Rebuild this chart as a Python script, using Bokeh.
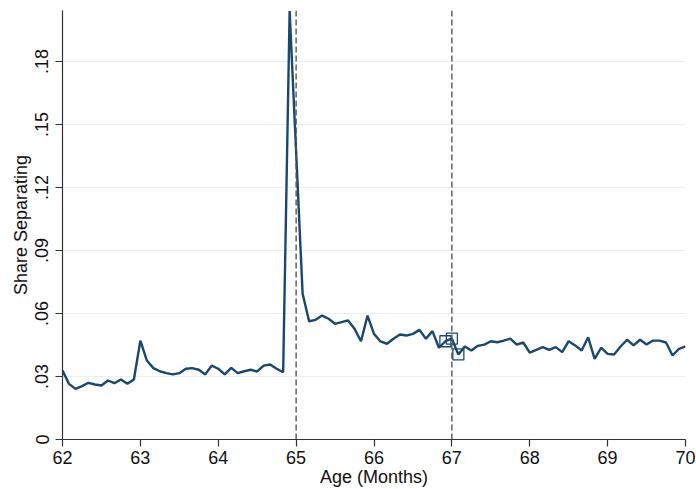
from bokeh.plotting import figure
from bokeh.models import FixedTicker, Span, ColumnDataSource
from bokeh.embed import file_html
from bokeh.resources import INLINE

# Age in months (62*12 .. 70*12), plotted in years
age_months = list(range(744, 841))
share = [
    .0329, .0265, .0241, .0254, .0270, .0262, .0257, .0281, .0268, .0286, .0265, .0286,
    .0471, .0376, .0340, .0325, .0316, .0310, .0316, .0337, .0340, .0332, .0310, .0352,
    .0337, .0310, .0341, .0316, .0325, .0332, .0324, .0352, .0357, .0337, .0320, .2040,
    .1370, .0694, .0563, .0570, .0590, .0575, .0551, .0559, .0567, .0527, .0468, .0590,
    .0503, .0467, .0456, .0480, .0500, .0495, .0503, .0522, .0480, .0516, .0437, .0468,
    .0480, .0405, .0443, .0424, .0446, .0452, .0468, .0463, .0471, .0480, .0452, .0462,
    .0414, .0427, .0440, .0427, .0440, .0416, .0468, .0448, .0424, .0487, .0384, .0437,
    .0408, .0405, .0443, .0475, .0448, .0475, .0452, .0471, .0471, .0462, .0400, .0432,
    .0443,
]
marked_months = [803, 804, 805]
vlines = [65, 67]
x_ticks = [62, 63, 64, 65, 66, 67, 68, 69, 70]
y_ticks = [0, 0.03, 0.06, 0.09, 0.12, 0.15, 0.18]
y_tick_labels = ["0", ".03", ".06", ".09", ".12", ".15", ".18"]

age = [m / 12 for m in age_months]
src = ColumnDataSource(dict(x=age, y=share))
mk = ColumnDataSource(dict(x=[m / 12 for m in marked_months],
                           y=[share[age_months.index(m)] for m in marked_months]))

NAVY = "#1a476f"
FONT = "Liberation Sans"

p = figure(width=696, height=489, output_backend="svg", toolbar_location=None,
           x_range=(62, 70), y_range=(0, 0.2043),
           min_border_left=62, min_border_right=11, min_border_top=10, min_border_bottom=50)
p.outline_line_color = None
p.background_fill_color = "white"
p.border_fill_color = "white"

p.line("x", "y", source=src, line_color=NAVY, line_width=2.4)
p.scatter("x", "y", source=mk, marker="square", size=11, fill_color=None,
          line_color=NAVY, line_width=1.3)

for v in vlines:
    p.add_layout(Span(location=v, dimension="height", line_color="#555555",
                      line_dash="6 3", line_width=1.4))

p.xaxis.ticker = FixedTicker(ticks=x_ticks)
p.yaxis.ticker = FixedTicker(ticks=y_ticks)
p.yaxis.major_label_overrides = {t: l for t, l in zip(y_ticks, y_tick_labels)}
p.yaxis.major_label_orientation = "vertical"

for ax in (p.xaxis[0], p.yaxis[0]):
    ax.axis_line_color = "#333333"
    ax.axis_line_width = 1.2
    ax.major_tick_line_color = "#333333"
    ax.major_tick_line_width = 1.2
    ax.major_tick_out = 7
    ax.major_tick_in = 0
    ax.minor_tick_line_color = None
    ax.major_label_text_font = FONT
    ax.major_label_text_font_size = "18px"
    ax.major_label_text_color = "#111111"
    ax.axis_label_text_font = FONT
    ax.axis_label_text_font_size = "18px"
    ax.axis_label_text_font_style = "normal"
    ax.axis_label_text_color = "#111111"

p.xaxis.axis_label = "Age (Months)"
p.yaxis.axis_label = "Share Separating"
p.xaxis.major_label_standoff = 4
p.xaxis.axis_label_standoff = 0
p.yaxis.major_label_standoff = 7
p.yaxis.axis_label_standoff = 2

p.xgrid.grid_line_color = None
p.ygrid.grid_line_color = "#e8f0f2"
p.ygrid.grid_line_width = 1.2

open("out.html", "w").write(file_html(p, INLINE))
